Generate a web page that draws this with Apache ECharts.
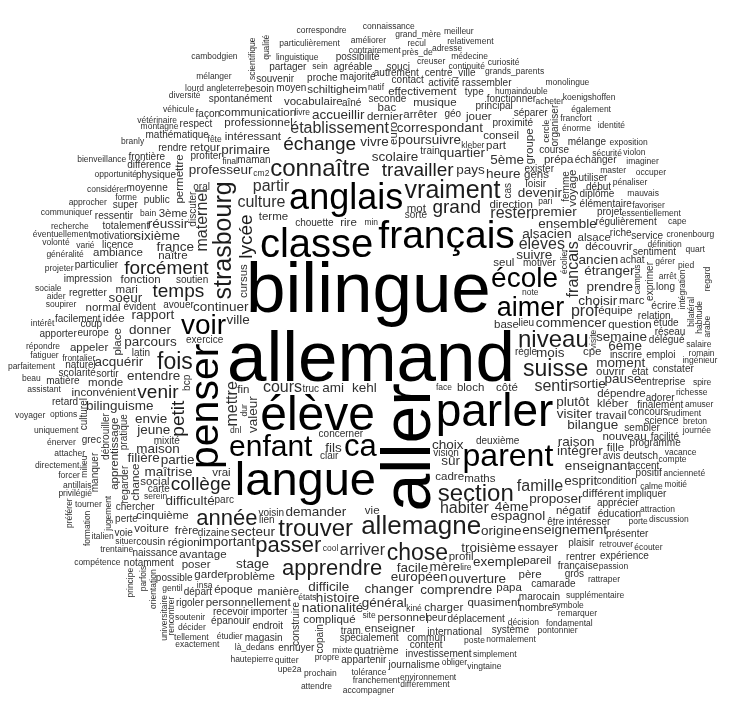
<!DOCTYPE html>
<html lang="fr">

<head>
    <meta charset="UTF-8">
    <title>Nuage de mots</title>
    <script src="https://cdn.jsdelivr.net/npm/echarts/dist/echarts.min.js"></script>
    <style>
        body { margin: 0; background: #fff; }
        #main { width: 742px; height: 722px; }
    </style>
</head>

<body>
    <div id="main"></div>

    <script>
        // biggest words, one size each (font px)
        const topWords = ['allemand', 'bilingue', 'aller', 'élève', 'langue', 'parler', 'penser', 'classe',
            'français', 'anglais', 'parent', 'ca', 'enfant', 'voir', 'école', 'aimer', 'allemagne', 'strasbourg',
            'vraiment', 'niveau', 'section', 'trouver', 'connaître', 'suisse', 'chose', 'fois', 'apprendre',
            'passer', 'année'];
        const topSizes = [71, 71, 68, 48, 47, 46, 41, 40, 39, 36, 32, 31, 30, 28, 28, 27, 26, 25, 25, 24, 24, 24, 24,
            23, 23, 23, 22, 22, 22];

        // the rest, grouped by size
        const tierSizes = [19, 16, 13.5, 11.5, 10, 8.5];
        const tier20 = ['travailler', 'temps', 'grand', 'forcément', 'collège', 'lycée', 'petit', 'échange', 'venir'];
        const tier17 = ['habiter', 'sentir', 'culture', 'établissement', 'élèves', 'mettre', 'francais', 'maternel',
            'rester', 'arriver', 'prof', 'partir', 'cours', 'famille'];
        const tier15 = ['espagnol', 'demander', 'parcours', 'commencer', 'continuer', 'scolaire', 'valeur', 'fils',
            'plutôt', 'suivre', 'ami', 'alsacien', 'bilangue', 'facile', 'troisième', 'origine', 'secteur',
            'poursuivre', 'sortie', 'partie', '4ème', 'envie', 'difficulté', 'européen', 'donner', 'quartier',
            'intégrer', 'pays', 'sûr', 'rapport', 'france', 'maison', 'devenir', 'choix', 'heure', 'visiter', 'jeune',
            'mois', 'proposer', 'premier', 'entendre', 'enseignant', 'important', 'correspondant', 'exemple',
            'comprendre', 'enseignement', 'changer', 'maîtrise', 'difficile', 'professeur', 'primaire', 'prendre',
            'histoire', 'ancien', 'semaine', 'moment', 'kehl', 'stage', 'mère', 'choisir', 'ville', 'ouverture',
            'ensemble', 'général', 'bilinguisme', 'vivre', 'nationalité', 'filière', 'sixième', '5ème', 'acquérir',
            'accueillir', 'étranger', 'raison', '6ème', 'esprit', 'soeur', 'réussir', 'pause'];
        const tier13 = ['base', 'dépendre', 'fonction', 'terme', 'cadre', 'négatif', 'vie', 'rire', 'fin', 'bloch',
            'ouvrir', 'maths', 'seul', '3ème', 'côté', 'gens', 'manière', 'dernier', 'kléber', 'avantage',
            'intéressant', 'problème', 'équipe', 'arrêter', 'essayer', 'question', 'charger', 'part', 'frère',
            'social', 'cinquième', 'découvrir', 'place', 'apprentissage', 'permettre', 'groupe', 'voyage', 'chance',
            'travail', 'fille', 'différent', 'professionnel', 'inconvénient', 'père', 'naître', 'bac', 'idée', 'marc',
            'mari', 'pareil', 'personnel', 'papa', 'mot', 'région', 'alsace', 'monde', 'cursus', 'vocabulaire',
            'compliqué', 'personnellement', 'schiltigheim', 'musique', 'communication', 'époque', 'effectivement',
            'poser', 'enseigner', 'direction', 'cpe', 'euro', 'garder', 'profil', 'voiture', 'jouer', 'vrai',
            'appeler', 'nouveau', 'conseil', 'ambiance', 'normal', 'retour', 'quasiment', 'prépa'];
        const tier11 = ['déplacement', 'sembler', 'public', 'soutien', 'sorte', 'truc', 'regarder', 'construire',
            'peur', 'clair', 'importer', 'totalement', 'europe', 'élémentaire', 'débrouiller', 'spécialement',
            'deuxième', 'impression', 'concerner', 'plaisir', 'voisin', 'proximité', 'naturel', 'chouette', 'profiter',
            'concours', 'physique', 'carte', 'femme', 'pratique', 'principal', 'régulièrement', 'mathématique',
            'spontanément', 'intéresser', 'super', 'programme', 'diplôme', 'géo', 'avouer', 'chercher', 'projet',
            'emploi', 'motiver', 'évident', 'majorité', 'avis', 'coup', 'achat', 'exercice', 'française', 'vision',
            'international', 'camarade', 'lien', 'exprimer', 'facilement', 'condition', 'particulier', 'regretter',
            'aîné', 'entreprise', 'moyenne', 'discuter', 'finalement', 'course', 'moyen', 'seconde', 'mixité',
            'naissance', 'état', 'riche', 'manquer', 'contact', 'exister', 'cas', 'copain', 'endroit', 'latin',
            'loisir', 'cousin', 'sortir', 'proche', 'activité', 'inscrire', 'scolarité', 'content', 'apprécier',
            'organiser', 'culturel', 'parc', 'licence', 'oral', 'deutsch', 'éducation', 'ressentir', 'rentrer',
            'départ', 'relation', 'motivation', 'dizaine', 'type', 'utiliser', 'besoin', 'étude', 'début', 'marocain',
            'rendre', 'lieu', 'train', 'façon', 'bcp', 'positif', 'investissement', 'différence', 'délégué',
            'agréable', 'souci', 'adorer', 'échanger', 'souvenir', 'respect', 'fonctionner', 'autrement', 'possible',
            'service', 'accent', 'quatrième', 'grec', 'centre_ville', 'maman', 'règle', 'facilité', 'sentiment',
            'nombre', 'science', 'recevoir', 'impliquer', 'frontière', 'présenter', 'être', 'constater', 'ennuyer',
            'commun', 'notamment', 'système', 'perte', 'rigoler', 'épanouir', 'magasin', 'mélange', 'séparer',
            'journalisme', 'retard', 'matière', 'gros', 'long', 'apporter', 'partager', 'appartenir', 'rassembler',
            'expérience', 'écrire', 'réseau', 'possibilité', 'tram', 'voie'];
        const tier9 = ['pénaliser', 'porte', 'orientation', 'calme', 'bain', 'retrouver', 'normalement', 'forme',
            'propre', 'poste', 'jugement', 'intégration', 'près_de', 'humain', 'décision', 'là_dedans', 'étudier',
            'milieu', 'soutenir', 'linguistique', 'supplémentaire', 'trentaine', 'creuser', 'tolérance', 'soupirer',
            'opportunité', 'prochain', 'angleterre', 'gérer', 'attacher', 'énorme', 'mauvais', 'quitter', 'décider',
            'options', 'simplement', 'environnement', 'continuité', 'essentiellement', 'livre', 'contrairement',
            'ingénieur', 'italien', 'frontalier', 'attraction', 'sécurité', 'varié', 'rattraper', 'compte',
            'uniquement', 'fondamental', 'tourner', 'hautepierre', 'forcer', 'définition', 'antillais', 'formation',
            'principe', 'assistant', 'situer', 'richesse', 'énerver', 'privilégié', 'répondre', 'francfort',
            'considérer', 'communiquer', 'directement', 'grands_parents', 'vétérinaire', 'bienveillance', 'master',
            'diversité', 'branly', 'obliger', 'vacance', 'mélanger', 'approcher', 'particulièrement', 'symbole',
            'médecine', 'éventuellement', 'généralité', 'écolier', 'bilatéral', 'universitaire', 'acheter',
            'scientifique', 'améliorer', 'sociale', 'recherche', 'véhicule', 'insa', 'adresse', 'double', 'breton',
            'grand_mère', 'exposition', 'également', 'franchement', 'vingtaine', 'passion', 'différemment',
            'correspondre', 'favoriser', 'rudiment', 'salaire', 'curiosité', 'serein', 'intérêt', 'connaissance',
            'habitude', 'cercle', 'ancienneté', 'parfaitement', 'fête', 'états', 'accompagner', 'remarquer', 'amuser',
            'upe2a', 'relativement', 'monolingue', 'exactement', 'kleber', 'fatiguer', 'identité', 'tellement',
            'projeter', 'compétence', 'koenigshoffen', 'gentil', 'montagne', 'cronenbourg', 'cambodgien', 'romain',
            'violon', 'attendre', 'occuper', 'discussion', 'campus', 'parfois', 'préférer', 'imaginer', 'meilleur',
            'pontonnier', 'journée', 'voyager', 'cool', 'natif', 'face', 'note', 'qualité', 'final', 'mixte', 'aider',
            'arrêt', 'recul', 'volonté', 'kiné', 'sein', 'site', 'écouter', 'cape', 'lourd', 'regard', 'rencontrer',
            'quart', 'pari', 'dur', 'visite', 'beau', 'min', 'cm2', 'dnl', 'lire', 'moitié', 'arabe', 'spire', 'pied'];

        // words written bottom-to-top
        const verticalWords = ['aller', 'penser', 'strasbourg', 'lycée', 'petit', 'francais', 'mettre', 'maternel',
            'valeur', 'place', 'apprentissage', 'permettre', 'groupe', 'voyage', 'chance', 'cursus', 'femme',
            'pratique', 'euro', 'regarder', 'construire', 'débrouiller', 'orientation', 'jugement', 'intégration',
            'milieu', 'exprimer', 'discuter', 'manquer', 'cas', 'copain', 'visite', 'dur', 'organiser', 'culturel',
            'arabe', 'bcp', 'regard', 'rencontrer', 'formation', 'principe', 'écolier', 'bilatéral', 'universitaire',
            'scientifique', 'habitude', 'cercle', 'qualité', 'campus', 'parfois', 'préférer'];

        const W = 742, H = 722;
        const FONT = '"Liberation Sans", Arial, sans-serif';
        const SEED = 17237;

        // flat word / size lists, biggest first
        const words = [], sizes = [];
        const seen = new Set();
        function pushWord(w, s) {
            if (seen.has(w)) return;
            seen.add(w);
            words.push(w);
            sizes.push(s);
        }
        topWords.forEach((w, i) => pushWord(w, topSizes[i]));
        [tier20, tier17, tier15, tier13, tier11, tier9].forEach((list, t) => {
            list.forEach(w => pushWord(w, tierSizes[t]));
        });

        const ctx = document.createElement('canvas').getContext('2d');
        function measure(word, size) {
            ctx.font = size + 'px ' + FONT;
            ctx.textAlign = 'center';
            ctx.textBaseline = 'middle';
            const m = ctx.measureText(word);
            return {
                l: m.actualBoundingBoxLeft, r: m.actualBoundingBoxRight,
                a: m.actualBoundingBoxAscent, d: m.actualBoundingBoxDescent
            };
        }

        // seeded start angles for the spiral
        function mulberry32(a) {
            return function () {
                a |= 0; a = a + 0x6D2B79F5 | 0;
                let t = Math.imul(a ^ a >>> 15, 1 | a);
                t = t + Math.imul(t ^ t >>> 7, 61 | t) ^ t;
                return ((t ^ t >>> 14) >>> 0) / 4294967296;
            };
        }
        const rnd = mulberry32(SEED);

        // grid of placed boxes for the overlap test
        const CELL = 20;
        const cols = Math.ceil(W / CELL), rows = Math.ceil(H / CELL);
        const grid = [];
        for (let k = 0; k < cols * rows; k++) grid.push([]);
        const boxes = [];

        function cellRange(b) {
            return [Math.max(0, Math.floor(b[0] / CELL)), Math.min(cols - 1, Math.floor(b[2] / CELL)),
                Math.max(0, Math.floor(b[1] / CELL)), Math.min(rows - 1, Math.floor(b[3] / CELL))];
        }
        function overlaps(b) {
            const c = cellRange(b);
            for (let r = c[2]; r <= c[3]; r++) {
                for (let q = c[0]; q <= c[1]; q++) {
                    const cell = grid[r * cols + q];
                    for (let k = 0; k < cell.length; k++) {
                        const o = boxes[cell[k]];
                        if (b[0] < o[2] && b[2] > o[0] && b[1] < o[3] && b[3] > o[1]) return true;
                    }
                }
            }
            return false;
        }
        function addBox(b) {
            boxes.push(b);
            const c = cellRange(b);
            for (let r = c[2]; r <= c[3]; r++)
                for (let q = c[0]; q <= c[1]; q++) grid[r * cols + q].push(boxes.length - 1);
        }

        // spiral layout, like R's wordcloud
        const layout = [];
        words.forEach((w, i) => {
            const vert = verticalWords.includes(w);
            // big words keep a 1px gap, small ones pack a little tighter
            const big = sizes[i] >= 19;
            const pad = big ? 1 : 0;
            const m = measure(w, big ? sizes[i] : sizes[i] * 0.96);
            let theta = rnd() * 2 * Math.PI;
            let rad = 0;
            while (rad <= Math.SQRT1_2) {
                const x = W / 2 + rad * W * Math.cos(theta);
                const y = H / 2 + rad * H * Math.sin(theta);
                const b = vert
                    ? [x - m.a - pad, y - m.r - pad, x + m.d + pad, y + m.l + pad]
                    : [x - m.l - pad, y - m.a - pad, x + m.r + pad, y + m.d + pad];
                if (b[0] >= 0 && b[1] >= 0 && b[2] <= W && b[3] <= H && !overlaps(b)) {
                    addBox(b);
                    layout.push([x, y, i]);
                    break;
                }
                theta += 0.1;
                rad += 0.05 * 0.1 / (2 * Math.PI);
            }
        });

        function colorOf(size) {
            if (size >= 27) return '#000';
            if (size >= 19) return '#1c1c1c';
            return '#303030';
        }

        var myChart = echarts.init(document.getElementById('main'));
        var option = {
            animation: false,
            grid: { left: 0, right: 0, top: 0, bottom: 0 },
            xAxis: { type: 'value', min: 0, max: W, show: false },
            yAxis: { type: 'value', min: 0, max: H, inverse: true, show: false },
            series: [{
                type: 'custom',
                coordinateSystem: 'cartesian2d',
                data: layout,
                renderItem: function (params, api) {
                    const p = api.coord([api.value(0), api.value(1)]);
                    const i = api.value(2);
                    const w = words[i];
                    return {
                        type: 'text',
                        x: p[0],
                        y: p[1],
                        rotation: verticalWords.includes(w) ? Math.PI / 2 : 0,
                        style: {
                            text: w,
                            fontSize: sizes[i],
                            fontFamily: FONT,
                            fill: colorOf(sizes[i]),
                            align: 'center',
                            verticalAlign: 'middle'
                        }
                    };
                }
            }]
        };
        myChart.setOption(option);
    </script>
</body>

</html>
